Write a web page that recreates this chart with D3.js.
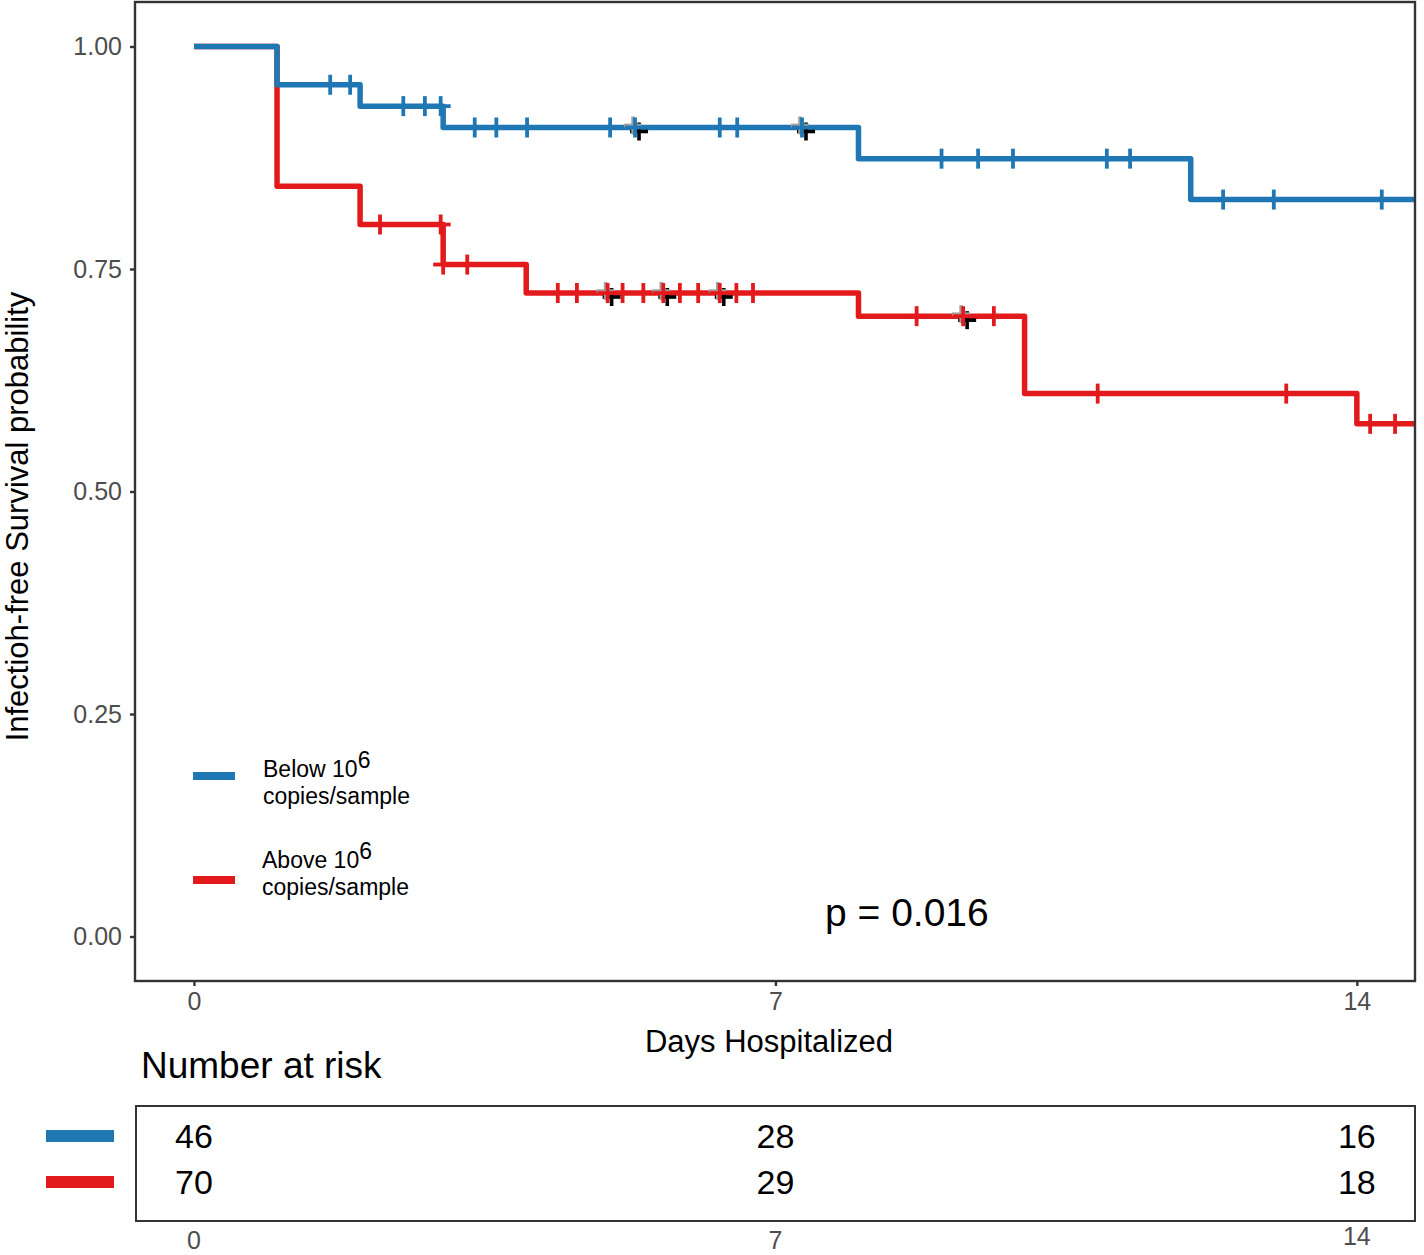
<!DOCTYPE html>
<html>
<head>
<meta charset="utf-8">
<script src="https://cdn.jsdelivr.net/npm/d3@7"></script>
<style>
  html, body { margin: 0; padding: 0; background: #fff; }
  svg { display: block; font-family: "Liberation Sans", Arial, sans-serif; }
</style>
</head>
<body>
<svg id="chart" width="1424" height="1255"></svg>
<script>
// ---- data ----
const groupNames = ["Below 10^6 copies/sample", "Above 10^6 copies/sample"];
const groupColors = ["#1f77b4", "#e31a1c"];

const blueTimes = [0, 1, 2, 3, 8, 12];
const blueSurv  = [1.0, 0.957, 0.933, 0.909, 0.874, 0.828];
const blueCensor = [1.64, 1.88, 2.52, 2.78, 2.97, 3.38, 3.64, 4.01, 5.01, 5.31, 6.33, 6.54, 7.32,
                    9.00, 9.44, 9.86, 10.99, 11.27, 12.39, 13.0, 14.30];
const blueShadow = [5.31, 7.32];

const redTimes = [0, 1, 2, 3, 4, 8, 10, 14];
const redSurv  = [1.0, 0.843, 0.800, 0.755, 0.723, 0.697, 0.610, 0.576];
const redCensor = [2.24, 2.97, 3.0, 3.29, 4.38, 4.61, 4.98, 5.16, 5.41, 5.65, 5.85, 6.07, 6.33, 6.53, 6.73,
                   8.70, 9.26, 9.63, 10.88, 13.15, 14.16, 14.46];
const redShadow = [4.98, 5.65, 6.33, 9.26];

const xTicks = [0, 7, 14];
const yTicks = [0, 0.25, 0.5, 0.75, 1.0];
const riskBlue = [46, 28, 16];
const riskRed  = [70, 29, 18];
const pValueText = "p = 0.016";
const endTime = 14.7;

// ---- layout ----
const svg = d3.select("#chart");
const P = { left: 135, right: 1415, top: 2, bottom: 981 };
const x = d3.scaleLinear().domain([-0.71, 14.70]).range([P.left, P.right]);
const y = d3.scaleLinear().domain([-0.05, 1.05]).range([P.bottom, P.top]);
const tickGrey = "#4d4d4d";

svg.append("defs").append("clipPath").attr("id", "panelclip")
  .append("rect").attr("x", P.left).attr("y", P.top)
  .attr("width", P.right - P.left).attr("height", P.bottom - P.top);

function stepValue(times, surv, t) {
  let v = surv[0];
  for (let i = 0; i < times.length; i++) if (times[i] <= t) v = surv[i];
  return v;
}

const groups = [
  { times: blueTimes, surv: blueSurv, censor: blueCensor, shadow: blueShadow, color: groupColors[0] },
  { times: redTimes, surv: redSurv, censor: redCensor, shadow: redShadow, color: groupColors[1] }
];

const plot = svg.append("g").attr("clip-path", "url(#panelclip)");
const line = d3.line().x(d => x(d[0])).y(d => y(d[1])).curve(d3.curveStepAfter);

// draw red first, then blue on top
[groups[1], groups[0]].forEach(g => {
  const pts = g.times.map((t, i) => [t, g.surv[i]]);
  pts.push([endTime, g.surv[g.surv.length - 1]]);
  plot.append("path").datum(pts)
    .attr("d", line).attr("fill", "none")
    .attr("stroke", g.color).attr("stroke-width", 5.5)
    .attr("stroke-linejoin", "round");
});

function cross(sel, cx, cy, color, half, sw) {
  sel.append("line").attr("x1", cx - half).attr("x2", cx + half).attr("y1", cy).attr("y2", cy)
    .attr("stroke", color).attr("stroke-width", sw);
  sel.append("line").attr("x1", cx).attr("x2", cx).attr("y1", cy - half).attr("y2", cy + half)
    .attr("stroke", color).attr("stroke-width", sw);
}

[groups[1], groups[0]].forEach(g => {
  const gg = plot.append("g");
  g.censor.forEach(t => {
    const cx = x(t), cy = y(stepValue(g.times, g.surv, t));
    if (g.shadow.includes(t)) {
      cross(gg, cx + 4, cy + 4, "#000", 9, 3.6);
      cross(gg, cx - 2, cy - 2, "#a0a0a0", 9, 3.6);
    }
    cross(gg, cx, cy, g.color, 10, 3.8);
  });
});

// panel border
svg.append("rect").attr("x", P.left).attr("y", P.top)
  .attr("width", P.right - P.left).attr("height", P.bottom - P.top)
  .attr("fill", "none").attr("stroke", "#333").attr("stroke-width", 2.4);

// y axis
const yAxis = svg.append("g").attr("transform", `translate(${P.left},0)`)
  .call(d3.axisLeft(y).tickValues(yTicks).tickFormat(d3.format(".2f")).tickSize(5).tickPadding(8));
yAxis.select(".domain").remove();
yAxis.selectAll(".tick line").attr("stroke", "#333").attr("stroke-width", 2.4);
yAxis.selectAll(".tick text").attr("fill", tickGrey).attr("font-size", 25)
  .style("font-family", "Liberation Sans, Arial, sans-serif");

// x axis
const xAxis = svg.append("g").attr("transform", `translate(0,${P.bottom})`)
  .call(d3.axisBottom(x).tickValues(xTicks).tickFormat(d3.format("d")).tickSize(5).tickPadding(6));
xAxis.select(".domain").remove();
xAxis.selectAll(".tick line").attr("stroke", "#333").attr("stroke-width", 2.4);
xAxis.selectAll(".tick text").attr("fill", tickGrey).attr("font-size", 25)
  .style("font-family", "Liberation Sans, Arial, sans-serif");

// axis titles
svg.append("text").attr("x", 769).attr("y", 1052)
  .attr("text-anchor", "middle").attr("font-size", 31).attr("fill", "#000")
  .text("Days Hospitalized");
svg.append("text").attr("transform", `translate(28,${(y(0) + y(1)) / 2 + 25}) rotate(-90)`)
  .attr("text-anchor", "middle").attr("font-size", 31).attr("fill", "#000")
  .text("Infectioh-free Survival probability");

// legend
const legendRows = [
  { color: groupColors[0], lineY: 776, top: "Below 10", bottom: "copies/sample", ty: 777, tx: 263 },
  { color: groupColors[1], lineY: 880, top: "Above 10", bottom: "copies/sample", ty: 868, tx: 262 }
];
legendRows.forEach(r => {
  svg.append("line").attr("x1", 193).attr("x2", 235).attr("y1", r.lineY).attr("y2", r.lineY)
    .attr("stroke", r.color).attr("stroke-width", 8);
  const t = svg.append("text").attr("x", r.tx).attr("y", r.ty)
    .attr("font-size", 23).attr("fill", "#000");
  t.append("tspan").text(r.top);
  t.append("tspan").attr("dy", -9).attr("font-size", 23).text("6");
  svg.append("text").attr("x", r.tx).attr("y", r.ty + 27)
    .attr("font-size", 23).attr("fill", "#000").text(r.bottom);
});

// p-value
svg.append("text").attr("x", 825).attr("y", 926).attr("font-size", 39).attr("fill", "#000")
  .text(pValueText);

// risk table
svg.append("text").attr("x", 141).attr("y", 1078).attr("font-size", 37).attr("fill", "#000")
  .text("Number at risk");
const T = { top: 1106, bottom: 1221 };
svg.append("rect").attr("x", P.left + 1).attr("y", T.top)
  .attr("width", P.right - P.left - 1).attr("height", T.bottom - T.top)
  .attr("fill", "none").attr("stroke", "#333").attr("stroke-width", 2);
const rowY = [1136, 1182];
[riskBlue, riskRed].forEach((row, ri) => {
  svg.append("rect").attr("x", 46).attr("y", rowY[ri] - 6).attr("width", 68).attr("height", 12)
    .attr("fill", groupColors[ri]);
  row.forEach((v, i) => {
    svg.append("text").attr("x", x(xTicks[i])).attr("y", rowY[ri] + 12)
      .attr("text-anchor", "middle").attr("font-size", 34).attr("fill", "#000").text(v);
  });
});
xTicks.forEach((t, i) => {
  svg.append("text").attr("x", x(t)).attr("y", i === 2 ? 1245 : 1249)
    .attr("text-anchor", "middle").attr("font-size", 25).attr("fill", tickGrey).text(t);
});
</script>
</body>
</html>
